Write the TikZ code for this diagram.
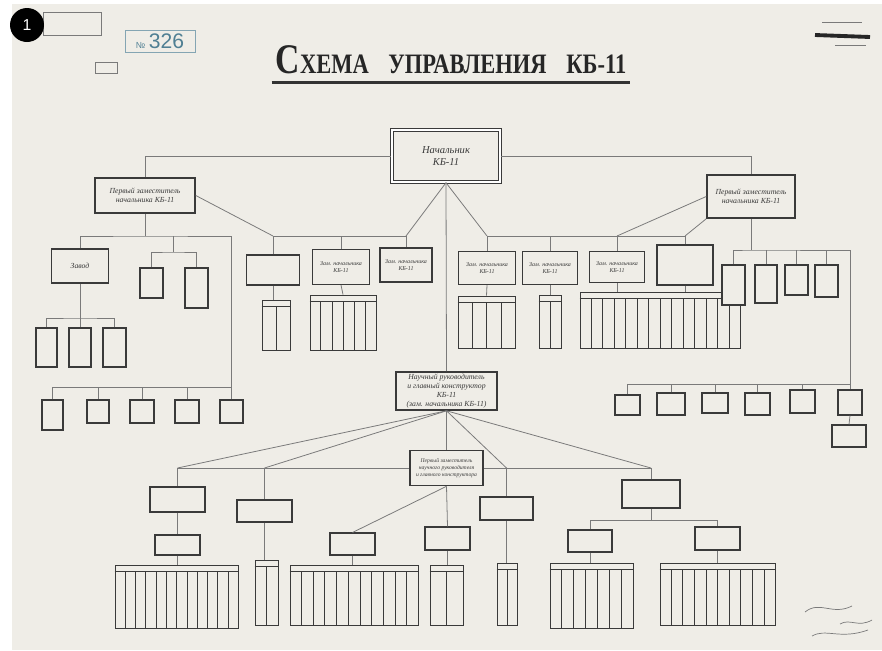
\documentclass[tikz,border=0pt]{standalone}
\usepackage{fontspec}
\setmainfont{Liberation Serif}
\setsansfont{Liberation Sans}
\newfontfamily\titlefont[FakeStretch=0.8]{Liberation Serif}
\usepackage{tikz}
\usetikzlibrary{calc}
\definecolor{paper}{HTML}{EFEDE7}
\definecolor{ink}{HTML}{3A3A3A}
\definecolor{pencil}{HTML}{7A7A7A}
\definecolor{stampblue}{HTML}{4F7F93}
\tikzset{
  wh/.style 2 args = {minimum width=#1*0.02cm, minimum height=#2*0.02cm},
  chief/.style = {
    rectangle, draw=ink, double, double distance=0.8pt, thick,
    fill=paper, inner sep=0pt, align=center, text=ink,
    font=\fontsize{6}{7}\selectfont\itshape
  },
  deputy/.style = {
    rectangle, draw=ink, line width=0.9pt,
    fill=paper, inner sep=0pt, align=center, text=ink,
    font=\fontsize{4.4}{5.2}\selectfont\itshape
  },
  unit/.style = {
    rectangle, draw=ink, line width=0.6pt,
    fill=paper, inner sep=0pt, align=center, text=ink,
    font=\fontsize{3.4}{4}\selectfont\itshape
  },
  sheet/.style = {
    rectangle, draw=ink, line width=0.5pt, fill=paper, inner sep=0pt
  },
  stampbox/.style = {
    rectangle, draw=pencil, line width=0.5pt, inner sep=0pt
  },
  link/.style = {draw=pencil, line width=0.45pt}
}
% header strip and column rules of a staff table
\newcommand{\tablecols}[2]{%
  \draw[ink, line width=0.35pt] ($(#1.north west)+(0,7)$) -- ($(#1.north east)+(0,7)$);
  \foreach \k in {2,...,#2}{
    \pgfmathsetmacro{\f}{(\k-1)/#2}
    \draw[ink, line width=0.35pt] ($(#1.north west)!\f!(#1.north east)+(0,7)$)
      -- ($(#1.south west)!\f!(#1.south east)$);
  }}

\begin{document}
\begin{tikzpicture}[x=0.02cm, y=-0.02cm]
  \useasboundingbox (0,0) rectangle (882,650);
  \fill[white] (0,0) rectangle (882,650);
  \fill[paper] (12,4) rectangle (882,650);

  % Stamps and marks
  \node[stampbox, wh={58}{23}] (regbox) at (72,23.5) {};
  \node[stampbox, wh={70}{22}, draw=stampblue!70, text=stampblue,
        font=\sffamily\large] (numstamp) at (160,41) {{\tiny №}\,326};
  \node[stampbox, wh={22}{11}] (smallbox) at (106,67.5) {};
  \draw[line width=2.2pt, black!85] (815,35) -- (870,37);
  \draw[pencil, thin] (822,22) -- (862,22);
  \draw[pencil, thin] (835,45) -- (866,45);
  \node[circle, fill=black, text=white, minimum size=34*0.02cm, inner sep=0pt,
        font=\sffamily\small] (badge) at (27,25) {1};

  % Title
  \node[font=\titlefont\bfseries\fontsize{16}{16}\selectfont, text=black!85] (title) at (451,60)
    {\fontsize{24}{24}\selectfont С\fontsize{16}{16}\selectfont ХЕМА\enspace\ УПРАВЛЕНИЯ\enspace\ КБ-11};
  \draw[line width=1.6pt, black!80] ($(title.south west)+(2,2)$) -- ($(title.south east)+(-2,2)$);

  % Head and first deputies
  \node[chief, wh={108}{52}] (head) at (446,156) {Начальник\\КБ-11};
  \node[deputy, wh={100}{35}] (depL) at (145,195.5) {Первый заместитель\\начальника КБ-11};
  \node[deputy, wh={88}{43}] (depR) at (751,196.5) {Первый заместитель\\начальника КБ-11};
  \node[deputy, wh={101}{38}] (sci) at (446.5,391)
    {Научный руководитель\\и главный конструктор\\КБ-11\\(зам. начальника КБ-11)};
  \draw[link] (depL.north) |- (head.west);
  \draw[link] (head.east) -| (depR.north);
  \draw[link] (head.south) -- (sci.north);

  % Deputies of the head
  \coordinate (jL) at (406,236);
  \coordinate (jR) at (487,236);
  \node[unit, wh={53}{30}] (zam1) at (273,270) {};
  \node[unit, wh={57}{35}] (zam2) at (341,267) {Зам. начальника\\КБ-11};
  \node[unit, wh={52}{34}] (zam3) at (406,265) {Зам. начальника\\КБ-11};
  \node[unit, wh={57}{33}] (zam4) at (487,268) {Зам. начальника\\КБ-11};
  \node[unit, wh={55}{33}] (zam5) at (550,268) {Зам. начальника\\КБ-11};
  \node[unit, wh={55}{31}] (zam6) at (617,267) {Зам. начальника\\КБ-11};
  \node[unit, wh={56}{40}, line width=0.9pt] (zam7) at (685,265) {};
  \draw[link] (head.south) -- (jL);
  \draw[link] (head.south) -- (jR);
  \draw[link] (zam1.north) |- (jL) -- (zam3.north);
  \draw[link] (zam2.north) -- (zam2.north |- jL);
  \draw[link] (zam7.north) |- (jR) -- (zam4.north);
  \draw[link] (zam5.north) -- (zam5.north |- jR);
  \draw[link] (zam6.north) -- (zam6.north |- jR);
  \draw[link] (depL.east) -- (zam1.north |- jL);
  \draw[link] (depR.west) -- (zam6.north |- jR);
  \draw[link] (depR.south west) -- (zam7.north |- jR);

  % Their staff tables
  \node[sheet, wh={28}{50}] (sh1) at (276,325) {};
  \node[sheet, wh={66}{55}] (sh2) at (343,322.5) {};
  \node[sheet, wh={57}{52}] (sh4) at (486.5,322) {};
  \node[sheet, wh={22}{53}] (sh5) at (550,321.5) {};
  \node[sheet, wh={160}{56}] (sh6) at (660,320) {};
  \tablecols{sh1}{2} \tablecols{sh2}{6} \tablecols{sh4}{4}
  \tablecols{sh5}{2} \tablecols{sh6}{14}
  \draw[link] (zam1.south) -- (zam1.south |- sh1.north);
  \draw[link] (zam2.south) -- (sh2.north);
  \draw[link] (zam4.south) -- (sh4.north);
  \draw[link] (zam5.south) -- (sh5.north);
  \draw[link] (zam6.south) -- (zam6.south |- sh6.north);
  \draw[link] (zam7.south) -- (zam7.south |- sh6.north);

  % Left first deputy branch
  \coordinate (jA) at (145,236);
  \coordinate (forkL) at (173,252);
  \coordinate (dropL) at (231.5,387);
  \coordinate (forkZ) at (80,318);
  \node[unit, wh={57}{34}, font=\fontsize{4.4}{5.2}\selectfont\itshape] (plant) at (80,266) {Завод};
  \node[unit, wh={23}{30}] (lab1) at (151.5,283) {};
  \node[unit, wh={23}{40}] (lab2) at (196.5,288) {};
  \node[unit, wh={21}{39}] (shop1) at (46.5,347.5) {};
  \node[unit, wh={22}{39}] (shop2) at (80,347.5) {};
  \node[unit, wh={23}{39}] (shop3) at (114.5,347.5) {};
  \node[unit, wh={21}{30}] (dept1) at (52.5,415) {};
  \node[unit, wh={22}{23}] (dept2) at (98,411.5) {};
  \node[unit, wh={24}{23}] (dept3) at (142,411.5) {};
  \node[unit, wh={24}{23}] (dept4) at (187,411.5) {};
  \node[unit, wh={23}{23}] (dept5) at (231.5,411.5) {};
  \draw[link] (depL.south) -- (jA);
  \draw[link] (plant.north) |- (jA) -| (dropL);
  \draw[link] (forkL |- jA) -- (forkL);
  \draw[link] (lab1.north) |- (forkL) -| (lab2.north);
  \draw[link] (plant.south) -- (shop2.north);
  \draw[link] (shop1.north) |- (forkZ) -| (shop3.north);
  \draw[link] (dept1.north) |- (dropL) -- (dept5.north);
  \draw[link] (dept2.north) -- (dept2.north |- dropL);
  \draw[link] (dept3.north) -- (dept3.north |- dropL);
  \draw[link] (dept4.north) -- (dept4.north |- dropL);

  % Right first deputy branch
  \coordinate (forkR) at (751,250);
  \coordinate (dropR) at (850,384);
  \node[unit, wh={23}{40}] (sec1) at (733.5,285) {};
  \node[unit, wh={22}{38}] (sec2) at (766,284) {};
  \node[unit, wh={23}{30}] (sec3) at (796.5,280) {};
  \node[unit, wh={23}{32}] (sec4) at (826.5,281) {};
  \node[unit, wh={25}{20}] (grp1) at (627.5,405) {};
  \node[unit, wh={28}{22}] (grp2) at (671,404) {};
  \node[unit, wh={26}{20}] (grp3) at (715,403) {};
  \node[unit, wh={25}{22}] (grp4) at (757.5,404) {};
  \node[unit, wh={25}{23}] (grp5) at (802.5,401.5) {};
  \node[unit, wh={24}{25}] (grp6) at (850,402.5) {};
  \node[unit, wh={34}{22}] (grp7) at (849,436) {};
  \draw[link] (depR.south) -- (forkR);
  \draw[link] (sec1.north) |- (forkR) -| (dropR);
  \draw[link] (sec2.north) -- (sec2.north |- forkR);
  \draw[link] (sec3.north) -- (sec3.north |- forkR);
  \draw[link] (sec4.north) -- (sec4.north |- forkR);
  \draw[link] (grp1.north) |- (dropR) -- (grp6.north);
  \draw[link] (grp2.north) -- (grp2.north |- dropR);
  \draw[link] (grp3.north) -- (grp3.north |- dropR);
  \draw[link] (grp4.north) -- (grp4.north |- dropR);
  \draw[link] (grp5.north) -- (grp5.north |- dropR);
  \draw[link] (grp6.south) -- (grp7.north);

  % Scientific director branch
  \coordinate (bb1) at (177.5,468);
  \coordinate (bb2) at (264.5,468);
  \coordinate (bb4) at (506.5,468);
  \coordinate (bb5) at (651,468);
  \coordinate (fork6) at (651,520);
  \node[unit, wh={73}{35}, line width=0.9pt, font=\fontsize{3.2}{3.9}\selectfont\itshape] (first) at (446.5,468)
    {Первый заместитель\\научного руководителя\\и главного конструктора};
  \node[unit, wh={55}{25}] (sub1) at (177.5,499.5) {};
  \node[unit, wh={45}{20}] (sub1a) at (177.5,545) {};
  \node[unit, wh={55}{22}] (sub2) at (264.5,511) {};
  \node[unit, wh={45}{22}] (sub3) at (352.5,544) {};
  \node[unit, wh={45}{23}] (sub4) at (447.5,538.5) {};
  \node[unit, wh={53}{23}] (sub5) at (506.5,508.5) {};
  \node[unit, wh={58}{28}] (sub6) at (651,494) {};
  \node[unit, wh={44}{22}] (sub6a) at (590,541) {};
  \node[unit, wh={45}{23}] (sub6b) at (717.5,538.5) {};
  \draw[link] (sci.south) -- (first.north);
  \draw[link] (sci.south) -- (bb1);
  \draw[link] (sci.south) -- (bb2);
  \draw[link] (sci.south) -- (bb4);
  \draw[link] (sci.south) -- (bb5);
  \draw[link] (bb1) -- (first.west);
  \draw[link] (first.east) -- (bb5);
  \draw[link] (bb1) -- (sub1.north);
  \draw[link] (sub1.south) -- (sub1a.north);
  \draw[link] (bb2) -- (sub2.north);
  \draw[link] (first.south) -- (sub3.north);
  \draw[link] (first.south) -- (sub4.north);
  \draw[link] (bb4) -- (sub5.north);
  \draw[link] (bb5) -- (sub6.north);
  \draw[link] (sub6.south) -- (fork6);
  \draw[link] (sub6a.north) |- (fork6) -| (sub6b.north);

  % Staff tables at the bottom
  \node[sheet, wh={123}{63}] (tab1) at (176.5,596.5) {};
  \node[sheet, wh={23}{65}] (tab2) at (266.5,592.5) {};
  \node[sheet, wh={128}{60}] (tab3) at (354,595) {};
  \node[sheet, wh={33}{60}] (tab4) at (446.5,595) {};
  \node[sheet, wh={20}{62}] (tab5) at (507,594) {};
  \node[sheet, wh={83}{65}] (tab6a) at (591.5,595.5) {};
  \node[sheet, wh={115}{62}] (tab6b) at (717.5,594) {};
  \tablecols{tab1}{12} \tablecols{tab2}{2} \tablecols{tab3}{11}
  \tablecols{tab4}{2} \tablecols{tab5}{2} \tablecols{tab6a}{7} \tablecols{tab6b}{10}
  \draw[link] (sub1a.south) -- (sub1a.south |- tab1.north);
  \draw[link] (sub2.south) -- (sub2.south |- tab2.north);
  \draw[link] (sub3.south) -- (sub3.south |- tab3.north);
  \draw[link] (sub4.south) -- (sub4.south |- tab4.north);
  \draw[link] (sub5.south) -- (sub5.south |- tab5.north);
  \draw[link] (sub6a.south) -- (sub6a.south |- tab6a.north);
  \draw[link] (sub6b.south) -- (sub6b.south |- tab6b.north);

  % Signatures
  \draw[pencil, thin] (805,612) .. controls (820,600) and (832,616) .. (852,606);
  \draw[pencil, thin] (812,636) .. controls (826,628) and (840,640) .. (868,630);
  \draw[pencil, thin] (840,624) .. controls (850,618) and (858,628) .. (872,620);
\end{tikzpicture}
\end{document}
